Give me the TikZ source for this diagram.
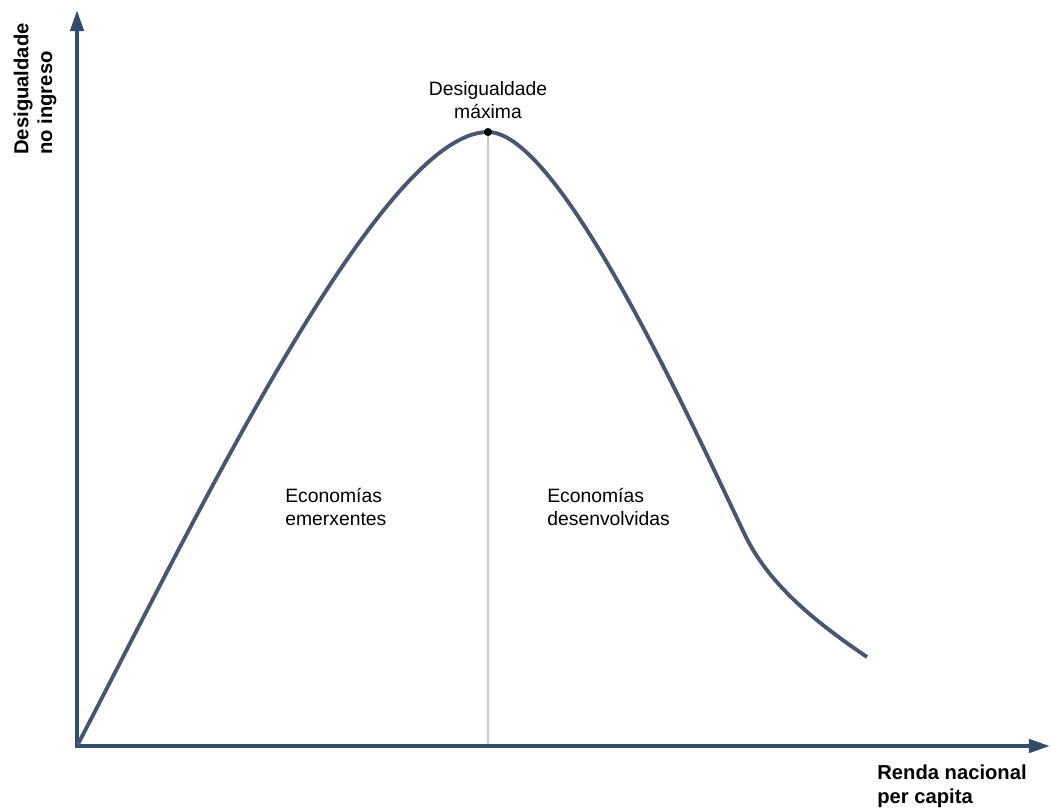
\documentclass[tikz,border=0pt]{standalone}
\usepackage{fontspec}
\setmainfont{Liberation Sans}
\usetikzlibrary{arrows.meta}
\definecolor{axisblue}{RGB}{50,76,106}
\definecolor{curveblue}{RGB}{72,86,112}
\begin{document}
\begin{tikzpicture}[x=0.02cm, y=-0.02cm,
    axis/.style={draw=axisblue, line width=2.3pt,
      {Triangle[length=12pt,width=7.5pt]}-{Triangle[length=12pt,width=7.5pt]}},
    lbl/.style={font=\fontsize{11}{13.5}\selectfont, align=left, inner sep=0pt},
    axislbl/.style={font=\bfseries\fontsize{11.5}{13.5}\selectfont, align=left, inner sep=0pt}]
  \useasboundingbox (0,0) rectangle (1051,809);

  \coordinate (O) at (77,746);
  \coordinate (ytop) at (77,10);
  \coordinate (xend) at (1050,746);
  \coordinate (peak) at (488,132);
  \coordinate (foot) at (488,746);
  \coordinate (bend) at (745,535);
  \coordinate (tail) at (867,657);

  \draw[gray!45, line width=0.8pt] (peak) -- (foot);
  \draw[axis] (ytop) -- (O) -- (xend);

  \draw[curveblue, line width=2.2pt]
    (O) .. controls (190,530) and (380,132) .. (peak)
        .. controls (560,132) and (690,420) .. (bend)
        .. controls (770,587) and (820,625) .. (tail);
  \fill (peak) circle (2.3pt);

  \node[lbl, align=center] (maxlbl) at (488,100) {Desigualdade\\máxima};
  \node[lbl, anchor=west] (emerx) at (285,507) {Economías\\emerxentes};
  \node[lbl, anchor=west] (desenv) at (547,507) {Economías\\desenvolvidas};

  \node[axislbl, rotate=90, anchor=west] (ylbl) at (35,155) {Desigualdade\\no ingreso};
  \node[axislbl, anchor=west] (xlbl) at (877,786) {Renda nacional\\per capita};
\end{tikzpicture}
\end{document}
